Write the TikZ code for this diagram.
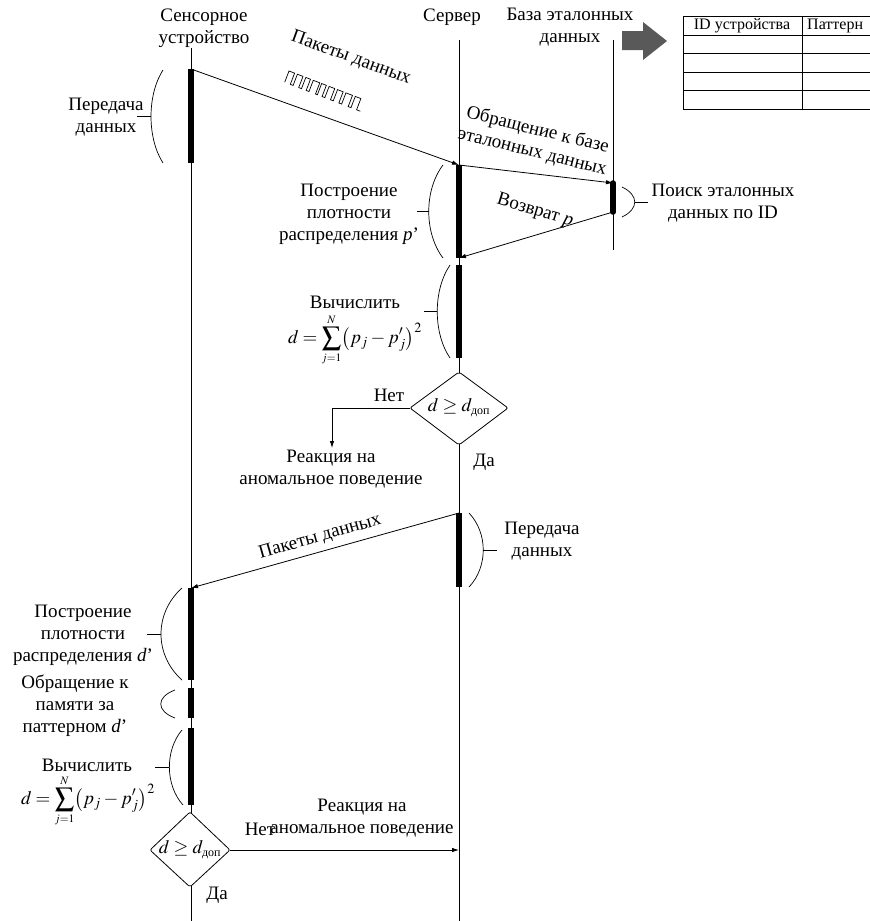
\documentclass[tikz,border=0pt]{standalone}
\usepackage{mathptmx}
\usepackage{fontspec}
\setmainfont{Liberation Serif}
\usetikzlibrary{arrows.meta,shapes.geometric}
\definecolor{arrgray}{HTML}{595959}
\newcommand{\dformula}{$\displaystyle d=\sum_{\scriptscriptstyle j=1}^{\scriptscriptstyle N}\bigl(p_j-p'_j\bigr)^2$}
\begin{document}
\begin{tikzpicture}[x=1pt,y=-1pt,
  txt/.style={font=\fontsize{19}{22}\selectfont, align=center, inner sep=0pt},
  tbl/.style={font=\fontsize{16}{18}\selectfont, inner sep=0pt},
  life/.style={line width=0.8pt},
  actbar/.style={line width=6pt},
  dbbar/.style={line width=5.5pt, line cap=round},
  msg/.style={line width=0.8pt,-{Latex[length=7pt,width=4.5pt]}},
  brc/.style={line width=0.7pt},
  decis/.style={draw, line width=0.8pt, fill=white, rounded corners=2pt}
]
\useasboundingbox (0,0) rectangle (870,921);

% ---------- lifeline heads ----------
\node[txt] (sensor) at (204,28) {Сенсорное\\устройство};
\node[txt] (server) at (452,17) {Сервер};
\node[txt] (dbase) at (570,27) {База эталонных\\данных};

% ---------- lifelines ----------
\coordinate (sTop) at (191,48);  \coordinate (sBot) at (191,921);
\coordinate (vTop) at (459,40);  \coordinate (vBot) at (459,921);
\coordinate (dTop) at (613,40);  \coordinate (dBot) at (613,250);
\draw[life] (sTop) -- (sBot);
\draw[life] (vTop) -- (vBot);
\draw[life] (dTop) -- (dBot);

% ---------- activation bars ----------
\coordinate (s1t) at (191,69);  \coordinate (s1b) at (191,163);
\coordinate (s4t) at (191,588); \coordinate (s4b) at (191,680);
\coordinate (s5t) at (191,688); \coordinate (s5b) at (191,718);
\coordinate (s6t) at (191,728); \coordinate (s6b) at (191,805);
\coordinate (v1t) at (459,165); \coordinate (v1b) at (459,258);
\coordinate (v2t) at (459,265); \coordinate (v2b) at (459,358);
\coordinate (v3t) at (459,513); \coordinate (v3b) at (459,587);
\coordinate (d1t) at (613,183); \coordinate (d1b) at (613,212);
\draw[actbar] (s1t) -- (s1b);
\draw[actbar] (s4t) -- (s4b);
\draw[actbar] (s5t) -- (s5b);
\draw[actbar] (s6t) -- (s6b);
\draw[actbar] (v1t) -- (v1b);
\draw[actbar] (v2t) -- (v2b);
\draw[actbar] (v3t) -- (v3b);
\draw[dbbar] (d1t) -- (d1b);

% ---------- messages ----------
\draw[msg] (s1t) -- (v1t);
\draw[msg] (v1t) -- (d1t);
\draw[msg] (d1b) -- (v1b);
\draw[msg] (v3t) -- (s4t);

\node[txt, rotate=-20] (pk1) at (351,58) {Пакеты данных};
\node[txt, rotate=-14] (req) at (535,141) {Обращение к базе\\эталонных данных};
\node[txt, rotate=-17] (ret) at (535,211) {Возврат \textit{p}};
\node[txt, rotate=16] (pk2) at (320,537) {Пакеты данных};

% pulse train
\begin{scope}[shift={(289,71)}, rotate=-21]
\draw[line width=0.7pt] (0,12)--(0,0)--(6,0)--(6,12)--(9,12)--(9,0)--(15,0)--(15,12)--(18,12)--(18,0)--(23,0)--(23,12)--(26,12)--(26,0)--(33,0)--(33,12)--(35,12)--(35,0)--(40,0)--(40,12)--(43,12)--(43,0)--(49,0)--(49,12)--(52,12)--(52,0)--(58,0)--(58,12)--(61,12)--(61,0)--(68,0)--(68,12)--(71,12)--(71,0)--(77,0)--(77,12)--(81,12);
\end{scope}

% ---------- braces ----------
\draw[brc] (163,70) .. controls (147,95) and (147,138) .. (163,163);
\draw[brc] (137,116) -- (151,116);
\draw[brc] (443,165) .. controls (424,190) and (424,233) .. (443,258);
\draw[brc] (417,211) -- (429,211);
\draw[brc] (450,265) .. controls (433,290) and (433,333) .. (450,358);
\draw[brc] (424,311) -- (437,311);
\draw[brc] (622,187) .. controls (639,195) and (639,209) .. (622,217);
\draw[brc] (635,202) -- (648,202);
\draw[brc] (469,513) .. controls (488,533) and (488,567) .. (469,587);
\draw[brc] (483,550) -- (497,550);
\draw[brc] (182,588) .. controls (154,613) and (154,655) .. (182,680);
\draw[brc] (147,634) -- (161,634);
\draw[brc] (175,690) .. controls (156,697) and (156,711) .. (175,718);
\draw[brc] (182,730) .. controls (165,750) and (165,785) .. (183,805);
\draw[brc] (155,767) -- (169,767);

% ---------- brace labels ----------
\node[txt] (tx1) at (106,117) {Передача\\данных};
\node[txt] (pp1) at (349,214) {Построение\\плотности\\распределения \textit{p}’};
\node[txt] (srch) at (723,203) {Поиск эталонных\\данных по ID};
\node[txt] (calc1) at (355,302) {Вычислить};
\node[txt] (f1) at (355,340) {\dformula};
\node[txt] (tx2) at (542,541) {Передача\\данных};
\node[txt] (pd2) at (83,635) {Построение\\плотности\\распределения \textit{d}’};
\node[txt] (mem) at (75,706) {Обращение к\\памяти за\\паттерном \textit{d}’};
\node[txt] (calc2) at (87,765) {Вычислить};
\node[txt] (f2) at (88,801) {\dformula};

% ---------- decision 1 ----------
\coordinate (aN) at (459,372); \coordinate (aE) at (508,408);
\coordinate (aS) at (459,445); \coordinate (aW) at (410,408);
\draw[decis] (aN) -- (aE) -- (aS) -- (aW) -- cycle;
\node[txt] (dA) at (459,408) {$d\geq d_{\mbox{\fontsize{12}{12}\selectfont доп}}$};
\coordinate (rA) at (332,448);
\draw[msg] (aW) -| (rA);
\node[txt] (noA) at (389,395) {Нет};
\node[txt] (yesA) at (484,462) {Да};
\node[txt] (reactA) at (331,469) {Реакция на\\аномальное поведение};

% ---------- decision 2 ----------
\coordinate (bN) at (190,812); \coordinate (bE) at (230,850);
\coordinate (bS) at (190,887); \coordinate (bW) at (150,850);
\draw[decis] (bN) -- (bE) -- (bS) -- (bW) -- cycle;
\node[txt] (dB) at (190,850) {$d\geq d_{\mbox{\fontsize{12}{12}\selectfont доп}}$};
\coordinate (rB) at (459,850);
\draw[msg] (bE) -- (rB);
\node[txt] (noB) at (260,829) {Нет};
\node[txt] (yesB) at (217,895) {Да};
\node[txt] (reactB) at (362,818) {Реакция на\\аномальное поведение};

% ---------- gray arrow and table ----------
\fill[arrgray] (622,31) -- (643,31) -- (643,22) -- (667,41) -- (643,60) -- (643,50) -- (622,50) -- cycle;
\foreach \yy in {16,35,53,72,90,109} \draw[line width=0.8pt] (683,\yy) -- (870,\yy);
\draw[line width=0.8pt] (683,16) -- (683,109);
\draw[line width=0.8pt] (802,16) -- (802,109);
\node[tbl] (c1) at (742,26) {ID устройства};
\node[tbl, anchor=west] (c2) at (807,26) {Паттерн};
\end{tikzpicture}
\end{document}
